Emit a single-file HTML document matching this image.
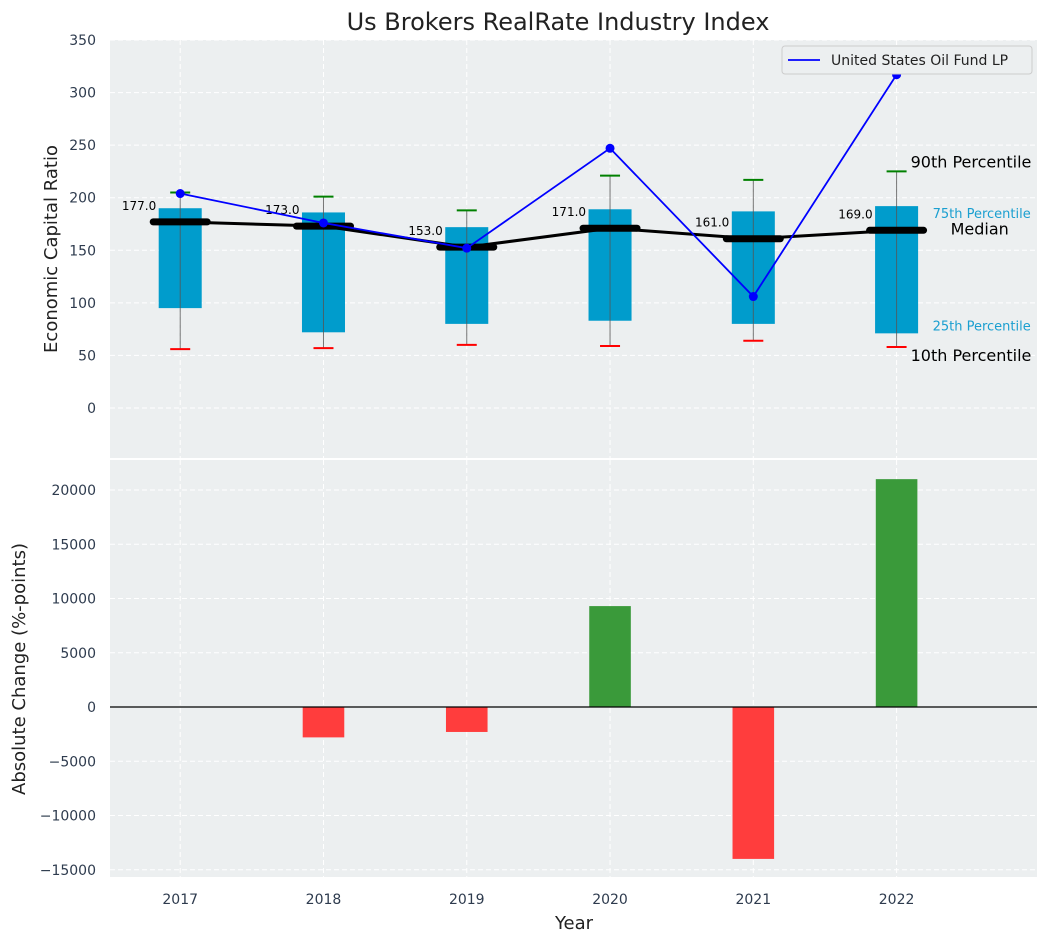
<!DOCTYPE html>
<html><head><meta charset="utf-8"><style>
body{margin:0;background:#fff;font-family:"Liberation Sans","DejaVu Sans",sans-serif}
svg text{font-family:"DejaVu Sans","Liberation Sans",sans-serif}
</style></head><body>
<svg id="c" width="1048" height="942" xmlns="http://www.w3.org/2000/svg"></svg>
<script>
const years=[2017,2018,2019,2020,2021,2022];
const p10=[56,57,60,59,64,58];
const p25=[95,72,80,83,80,71];
const p50=[177,173,153,171,161,169];
const p75=[190,186,172,189,187,192];
const p90=[205,201,188,221,217,225];
const fund=[204,176,152,247,106,317];
const change=[0,-2800,-2300,9300,-14000,21000];
const topTicks=[0,50,100,150,200,250,300,350];
const botTicks=[-15000,-10000,-5000,0,5000,10000,15000,20000];

const S=document.getElementById('c'),NS='http://www.w3.org/2000/svg';
function el(t,a,p){const e=document.createElementNS(NS,t);for(const k in a)e.setAttribute(k,a[k]);(p||S).appendChild(e);return e;}
const L=110,R=1037;
const x=v=>L+(v-2016.51)/(2022.98-2016.51)*(R-L);
const T0=40,T1=458,B0=460,B1=877;
const yt=v=>408-v*(368/350);
const yb=v=>707-v*(54.25/5000);
const TC='#2e3b4e';

let t=el('text',{x:558,y:30,'font-size':24,'text-anchor':'middle',fill:'#222'});t.textContent='Us Brokers RealRate Industry Index';


let pt=el('rect',{x:L,y:T0,width:R-L,height:T1-T0,fill:'#eceff0'});

let pb=el('rect',{x:L,y:B0,width:R-L,height:B1-B0,fill:'#eceff0'});


years.forEach(yr=>{
  el('line',{x1:x(yr),x2:x(yr),y1:T0,y2:T1,stroke:'#fff','stroke-dasharray':'5,3','stroke-width':1});
  el('line',{x1:x(yr),x2:x(yr),y1:B0,y2:B1,stroke:'#fff','stroke-dasharray':'5,3','stroke-width':1});
  let tx=el('text',{x:x(yr),y:904,'font-size':14,'text-anchor':'middle',fill:TC});tx.textContent=yr;
  
});
topTicks.forEach(v=>{
  el('line',{x1:L,x2:R,y1:yt(v),y2:yt(v),stroke:'#fff','stroke-dasharray':'5,3'});
  let tx=el('text',{x:96,y:yt(v)+5,'font-size':14,'text-anchor':'end',fill:TC});tx.textContent=v;
  
});
botTicks.forEach(v=>{
  el('line',{x1:L,x2:R,y1:yb(v),y2:yb(v),stroke:'#fff','stroke-dasharray':'5,3'});
  let tx=el('text',{x:96,y:yb(v)+5,'font-size':14,'text-anchor':'end',fill:TC});tx.textContent=v<0?'\u2212'+(-v):v;
  
});

years.forEach((yr,i)=>{
  const cx=x(yr),hw=0.15*143.4;
  let b=el('rect',{x:cx-hw,y:yt(p75[i]),width:2*hw,height:yt(p25[i])-yt(p75[i]),fill:'#009ccc'});
  
  el('line',{x1:cx,x2:cx,y1:yt(p90[i]),y2:yt(p10[i]),stroke:'#555','stroke-width':1,opacity:0.8});
  el('line',{x1:cx-10,x2:cx+10,y1:yt(p90[i]),y2:yt(p90[i]),stroke:'green','stroke-width':2});
  el('line',{x1:cx-10,x2:cx+10,y1:yt(p10[i]),y2:yt(p10[i]),stroke:'red','stroke-width':2});
});
el('polyline',{points:years.map((yr,i)=>x(yr)+','+yt(p50[i])).join(' '),fill:'none',stroke:'#000','stroke-width':3});
years.forEach((yr,i)=>{
  let m=el('line',{x1:x(yr)-27,x2:x(yr)+27,y1:yt(p50[i]),y2:yt(p50[i]),stroke:'#000','stroke-width':7,'stroke-linecap':'round'});
  
  let tx=el('text',{x:x(yr)-24,y:yt(p50[i])-12,'font-size':12,'text-anchor':'end',fill:'#000'});tx.textContent=p50[i].toFixed(1);
  
});
let fl=el('polyline',{points:years.map((yr,i)=>x(yr)+','+yt(fund[i])).join(' '),fill:'none',stroke:'blue','stroke-width':1.8});

years.forEach((yr,i)=>{let c=el('circle',{cx:x(yr),cy:yt(fund[i]),r:4.5,fill:'blue'});
  });

const last=5,ax=x(2022);
[['90th Percentile',yt(p90[last])-4,16,'#000',ax+14],['75th Percentile',yt(p75[last])+12,13,'#1a9fd0',ax+36],['Median',yt(p50[last])+4,16,'#000',ax+54],['25th Percentile',yt(p25[last])-3,13,'#1a9fd0',ax+36],['10th Percentile',yt(p10[last])+14,16,'#000',ax+14]].forEach(a=>{
  let tx=el('text',{x:a[4],y:a[1],'font-size':a[2],fill:a[3]});tx.textContent=a[0];
  
});

let lg=el('g',{});
el('rect',{x:782,y:46,width:250,height:28,rx:3,fill:'#eceff0',stroke:'#ccc'},lg);
el('line',{x1:788,x2:820,y1:60,y2:60,stroke:'blue','stroke-width':1.8},lg);
let lt=el('text',{x:831,y:65,'font-size':14,fill:'#222'},lg);lt.textContent='United States Oil Fund LP';

years.forEach((yr,i)=>{
  const v=change[i];if(v===0)return;
  const hw=0.145*143.4;
  let b=el('rect',{x:x(yr)-hw,y:Math.min(yb(v),yb(0)),width:2*hw,height:Math.abs(yb(v)-yb(0)),fill:v>0?'#3a9a3a':'#ff3d3d'});
  
});
el('line',{x1:L,x2:R,y1:yb(0),y2:yb(0),stroke:'#000','stroke-width':1.2});

let a1=el('text',{x:57,y:249,'font-size':18,'text-anchor':'middle',fill:'#222',transform:'rotate(-90 57 249)'});a1.textContent='Economic Capital Ratio';

let a2=el('text',{x:25,y:669,'font-size':18,'text-anchor':'middle',fill:'#222',transform:'rotate(-90 25 669)'});a2.textContent='Absolute Change (%-points)';

let a3=el('text',{x:574,y:929,'font-size':18,'text-anchor':'middle',fill:'#222'});a3.textContent='Year';

</script>
</body></html>
